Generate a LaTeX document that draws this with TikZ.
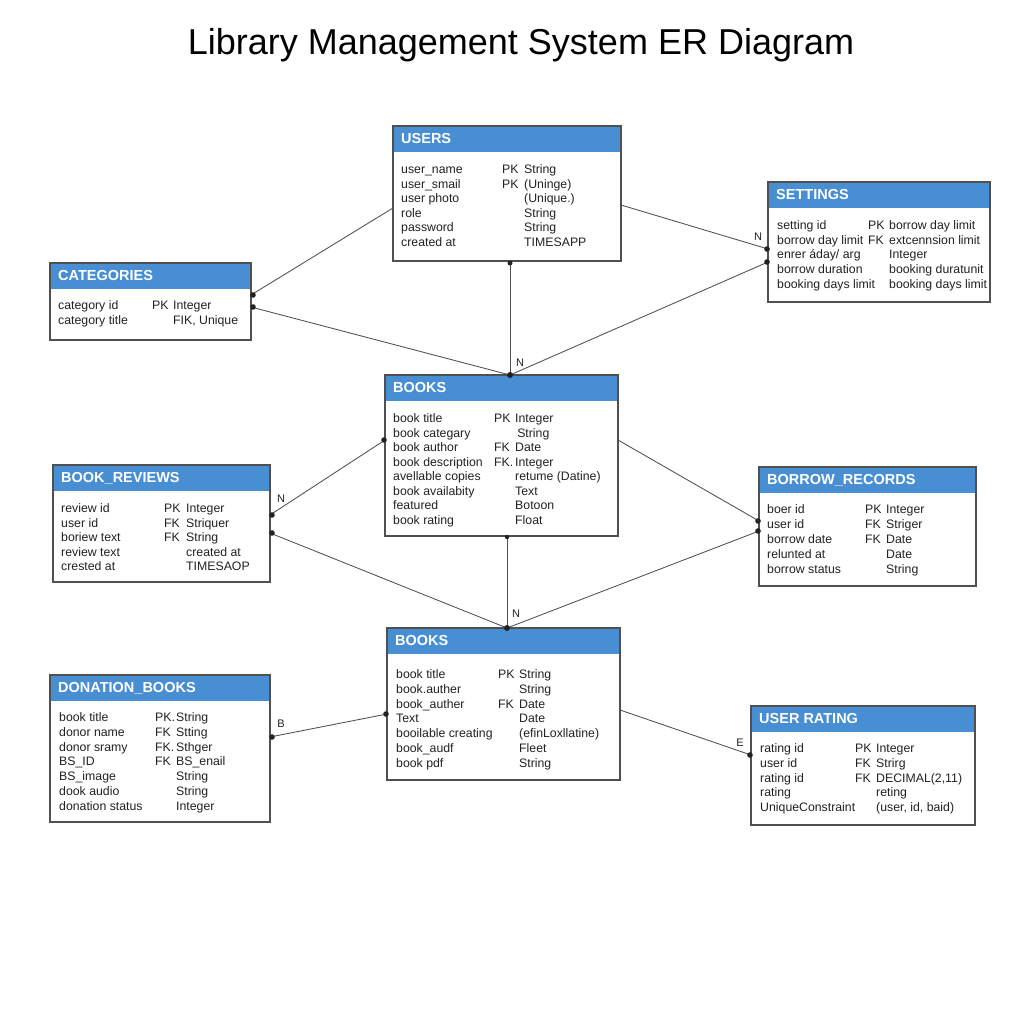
\documentclass[tikz,border=0pt]{standalone}
\usepackage{fontspec}
\setmainfont{Liberation Sans}
\usetikzlibrary{calc}
\definecolor{hdr}{RGB}{72,142,210}
\definecolor{bordc}{RGB}{80,80,80}
\definecolor{txt}{RGB}{34,34,34}
\definecolor{linec}{RGB}{80,80,80}
\tikzset{
  tbox/.style={inner sep=0pt, outer sep=0pt, anchor=north west},
  bordline/.style={draw=bordc, line width=1.1pt},
  htext/.style={font=\fontsize{14.5}{16}\selectfont\bfseries, text=white, inner sep=0pt, anchor=west},
  cell/.style={font=\fontsize{12.3}{14}\selectfont, text=txt, inner sep=0pt, text height=8.5pt, text depth=2.5pt, anchor=west},
  conn/.style={draw=linec, line width=0.85pt},
  enddot/.style={fill=txt},
  lbl/.style={font=\fontsize{11}{12}\selectfont, text=txt, inner sep=0pt}
}
% name, x, y, w, h, title
\newcommand\erbox[6]{%
  \node[tbox, minimum width=#4pt, minimum height=#5pt] (#1) at (#2,#3) {};
  \fill[hdr] (#1.north west) rectangle ([yshift=-26pt]#1.north east);
  \draw[bordline] (#1.north west) rectangle (#1.south east);
  \node[htext] (#1-title) at ([xshift=8pt,yshift=-13pt]#1.north west) {#6};
}
% name, xname, xkey, xtype, ystart, step, list
\newcommand\errows[7]{%
  \foreach \a/\b/\c [count=\i] in {#7} {
    \node[cell] (#1-n\i) at (#2,{#5+1.5+(\i-1)*#6}) {\a};
    \node[cell] (#1-k\i) at (#3,{#5+1.5+(\i-1)*#6}) {\b};
    \node[cell] (#1-t\i) at (#4,{#5+1.5+(\i-1)*#6}) {\c};
  }
}
\begin{document}
\begin{tikzpicture}[x=1pt,y=-1pt]
\useasboundingbox[fill=white] (0,0) rectangle (1024,1024);

\node[font=\fontsize{36}{40}\selectfont, text=black, inner sep=0pt] (title) at (521,45) {Library Management System ER Diagram};

% boxes
\erbox{users}{393}{126}{228}{135}{USERS}
\erbox{settings}{768}{182}{222}{120}{SETTINGS}
\erbox{categories}{50}{263}{201}{77}{CATEGORIES}
\erbox{booksa}{385}{375}{233}{161}{BOOKS}
\erbox{reviews}{53}{465}{217}{117}{BOOK\_REVIEWS}
\erbox{borrow}{759}{467}{217}{119}{BORROW\_RECORDS}
\erbox{booksb}{387}{628}{233}{152}{BOOKS}
\erbox{donation}{50}{675}{220}{147}{DONATION\_BOOKS}
\erbox{rating}{751}{706}{224}{119}{USER RATING}

% rows
\errows{users}{401}{502}{524}{169}{14.6}{user\_name/PK/String, user\_smail/PK/(Uninge), user photo//(Unique.), role//String, password//String, created at//TIMESAPP}
\errows{settings}{777}{868}{889}{225}{14.7}{setting id/PK/borrow day limit, borrow day limit/FK/extcennsion limit, {enrer áday/ arg}//Integer, borrow duration//booking duratunit, booking days limit//booking days limit}
\errows{categories}{58}{152}{173}{305}{15}{category id/PK/Integer, category title//{FIK, Unique}}
\errows{booksa}{393}{494}{515}{418}{14.57}{book title/PK/Integer, book categary//\,String, book author/FK/Date, book description/FK./Integer, avellable copies//retume (Datine), book availabity//Text, featured//Botoon, book rating//Float}
\errows{reviews}{61}{164}{186}{508}{14.6}{review id/PK/Integer, user id/FK/Striquer, boriew text/FK/String, review text//created at, crested at//TIMESAOP}
\errows{borrow}{767}{865}{886}{509}{15}{boer id/PK/Integer, user id/FK/Striger, borrow date/FK/Date, relunted at//Date, borrow status//String}
\errows{booksb}{396}{498}{519}{674}{14.83}{book title/PK/String, book.auther//String, book\_auther/FK/Date, Text//Date, booilable creating//(efinLoxllatine), book\_audf//Fleet, book pdf//String}
\errows{donation}{59}{155}{176}{717}{14.8}{book title/PK./String, donor name/FK/Stting, donor sramy/FK./Sthger, BS\_ID/FK/BS\_enail, BS\_image//String, dook audio//String, donation status//Integer}
\errows{rating}{760}{855}{876}{748}{14.75}{rating id/PK/Integer, user id/FK/Strirg, rating id/FK/{DECIMAL(2,11)}, rating//reting, UniqueConstraint//{(user, id, baid)}}

% connectors
\draw[conn] ([yshift=-14.5pt]users.west) -- ([yshift=6.5pt]categories.east);
\draw[conn] ([yshift=-11.5pt]users.east) -- ([yshift=-7pt]settings.west);
\draw[conn] ([xshift=8.5pt]booksa.north) -- ([yshift=-20pt]settings.west);
\draw[conn] ([xshift=8.5pt]booksa.north) -- ([yshift=-5.5pt]categories.east);
\draw[conn] ([xshift=8.5pt]booksa.north) -- ([xshift=3pt]users.south);
\draw[conn] ([yshift=15.5pt]booksa.west) -- ([yshift=8.5pt]reviews.east);
\draw[conn] ([yshift=15.5pt]booksa.east) -- ([yshift=5.5pt]borrow.west);
\draw[conn] ([yshift=-9.5pt]reviews.east) -- ([xshift=3.5pt]booksb.north);
\draw[conn] ([xshift=3.5pt]booksb.north) -- ([xshift=5.5pt]booksa.south);
\draw[conn] ([xshift=3.5pt]booksb.north) -- ([yshift=-4.5pt]borrow.west);
\draw[conn] ([yshift=11.5pt]donation.east) -- ([yshift=-10pt]booksb.west);
\draw[conn] ([yshift=-6pt]booksb.east) -- ([yshift=10.5pt]rating.west);

% end dots
\fill[enddot] ([yshift=6.5pt,xshift=2pt]categories.east) circle (2.8pt);
\fill[enddot] ([yshift=-5.5pt,xshift=2pt]categories.east) circle (2.8pt);
\fill[enddot] ([yshift=-7pt,xshift=-1pt]settings.west) circle (2.8pt);
\fill[enddot] ([yshift=-20pt,xshift=-1pt]settings.west) circle (2.8pt);
\fill[enddot] ([xshift=3pt,yshift=-2pt]users.south) circle (2.5pt);
\fill[enddot] ([xshift=8.5pt]booksa.north) circle (3pt);
\fill[enddot] ([yshift=15.5pt,xshift=-1pt]booksa.west) circle (2.8pt);
\fill[enddot] ([yshift=8.5pt,xshift=2pt]reviews.east) circle (2.8pt);
\fill[enddot] ([yshift=-9.5pt,xshift=2pt]reviews.east) circle (2.8pt);
\fill[enddot] ([yshift=5.5pt,xshift=-1pt]borrow.west) circle (2.8pt);
\fill[enddot] ([yshift=-4.5pt,xshift=-1pt]borrow.west) circle (2.8pt);
\fill[enddot] ([xshift=3.5pt]booksb.north) circle (3pt);
\fill[enddot] ([xshift=5.5pt,yshift=-1pt]booksa.south) circle (2.2pt);
\fill[enddot] ([yshift=11.5pt,xshift=2pt]donation.east) circle (2.8pt);
\fill[enddot] ([yshift=-10pt,xshift=-1pt]booksb.west) circle (2.8pt);
\fill[enddot] ([yshift=10.5pt,xshift=-1pt]rating.west) circle (2.8pt);

% cardinality labels
\node[lbl] (lbl-n1) at (758,237) {N};
\node[lbl] (lbl-n2) at (520,363) {N};
\node[lbl] (lbl-n3) at (281,499) {N};
\node[lbl] (lbl-n4) at (516,614) {N};
\node[lbl] (lbl-b) at (281,724) {B};
\node[lbl] (lbl-e) at (740,743) {E};
\end{tikzpicture}
\end{document}
